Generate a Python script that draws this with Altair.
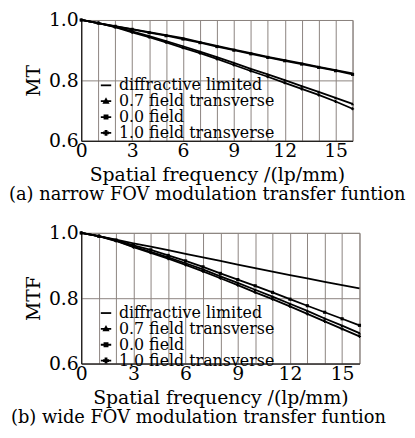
import altair as alt
import pandas as pd

freq = list(range(17))
series_names = ["diffractive limited", "0.7 field transverse", "0.0 field", "1.0 field transverse"]

# (a) narrow FOV
diff_a = [1.0, 0.99, 0.98, 0.97, 0.96, 0.95, 0.94, 0.927, 0.914, 0.902, 0.89, 0.878, 0.867, 0.856, 0.845, 0.834, 0.823]
f07_a = [1.0, 0.99, 0.977, 0.962, 0.947, 0.93, 0.913, 0.895, 0.877, 0.858, 0.838, 0.82, 0.801, 0.781, 0.762, 0.742, 0.722]
f00_a = [1.0, 0.99, 0.979, 0.969, 0.958, 0.948, 0.937, 0.925, 0.912, 0.9, 0.888, 0.876, 0.865, 0.854, 0.843, 0.832, 0.82]
f10_a = [1.0, 0.99, 0.976, 0.959, 0.943, 0.926, 0.908, 0.89, 0.871, 0.851, 0.831, 0.812, 0.792, 0.772, 0.752, 0.73, 0.706]

# (b) wide FOV
diff_b = [1.0, 0.99, 0.979, 0.968, 0.958, 0.947, 0.936, 0.925, 0.914, 0.903, 0.892, 0.881, 0.871, 0.861, 0.85, 0.84, 0.83]
f07_b = [1.0, 0.99, 0.976, 0.958, 0.942, 0.925, 0.907, 0.888, 0.867, 0.847, 0.826, 0.805, 0.783, 0.761, 0.738, 0.716, 0.693]
f00_b = [1.0, 0.99, 0.978, 0.962, 0.948, 0.931, 0.914, 0.896, 0.876, 0.857, 0.838, 0.818, 0.797, 0.777, 0.757, 0.737, 0.717]
f10_b = [1.0, 0.99, 0.975, 0.956, 0.939, 0.921, 0.902, 0.882, 0.861, 0.84, 0.818, 0.797, 0.775, 0.752, 0.729, 0.706, 0.683]

x_ticks = [0, 3, 6, 9, 12, 15]
y_ticks = [0.6, 0.8, 1.0]

FONT = "DejaVu Serif"
marker_paths = [
    "M-1,0H1",
    "M-1,0H1M0,-0.4L0.4,0.3L-0.4,0.3Z",
    "M-1,0H1M-0.3,-0.3H0.3V0.3H-0.3Z",
    "M-1,0H1M-0.4,-0.1H0.4V0.1H-0.4ZM-0.1,-0.4H0.1V0.4H-0.1Z",
]
data_marks = ["circle", "triangle-up", "square", "cross"]


def make_df(vals):
    rows = []
    for name, v in zip(series_names, vals):
        for f, m in zip(freq, v):
            rows.append({"freq": f, "mtf": m, "series": name})
    return pd.DataFrame(rows)


def panel(vals, ytitle, caption, w, h, legend_y, cap_dx):
    df = make_df(vals)
    x = alt.X("freq:Q", scale=alt.Scale(domain=[0, 16], nice=False),
              axis=alt.Axis(values=freq, title="Spatial frequency /(lp/mm)",
                            labelExpr="datum.value % 3 == 0 && datum.value < 16 ? datum.label : ''",
                            ticks=False, labelPadding=1, titlePadding=5, labelFlush=False,
                            labelOverlap=False))
    y = alt.Y("mtf:Q", scale=alt.Scale(domain=[0.6, 1.0], nice=False),
              axis=alt.Axis(values=y_ticks, format=".1f", title=ytitle, ticks=False,
                            labelPadding=3, titlePadding=5))
    base = alt.Chart(df).encode(x=x, y=y)
    lines = base.mark_line(color="black", strokeWidth=1.8).encode(detail="series:N")
    pts = base.transform_filter("datum.series != 'diffractive limited'").mark_point(
        filled=True, color="black", size=10, opacity=1
    ).encode(shape=alt.Shape("series:N", scale=alt.Scale(domain=series_names, range=data_marks), legend=None))
    leg = base.transform_filter("datum.freq == 0").mark_point(opacity=0).encode(
        shape=alt.Shape("series:N", sort=series_names,
                        scale=alt.Scale(domain=series_names, range=marker_paths),
                        legend=alt.Legend(title=None, orient="none", legendX=17, legendY=legend_y,
                                          labelFont=FONT, labelFontSize=16, labelColor="black",
                                          labelLimit=400,
                                          symbolSize=110, symbolStrokeWidth=1.8, symbolOpacity=1,
                                          symbolFillColor="black", symbolStrokeColor="black",
                                          rowPadding=0, labelOffset=5))
    )
    return alt.layer(lines, pts, leg).resolve_scale(shape="independent").properties(
        width=w, height=h,
        title=alt.TitleParams(caption, orient="bottom", anchor="start", frame="group", dx=cap_dx,
                              font=FONT, fontSize=18, fontWeight="normal", color="black", offset=2)
    )


top = panel([diff_a, f07_a, f00_a, f10_a], "MT", "(a) narrow FOV modulation transfer funtion", 274, 122, 58, -73)
bot = panel([diff_b, f07_b, f00_b, f10_b], "MTF", "(b) wide FOV modulation transfer funtion", 281, 132, 73, -71)

chart = alt.vconcat(top, bot, spacing=18).resolve_scale(shape="independent").resolve_legend(shape="independent").properties(
    padding=0
).configure_axis(
    labelFont=FONT, labelFontSize=19, labelColor="black",
    titleFont=FONT, titleFontSize=19, titleColor="black", titleFontWeight="normal",
    gridColor="#8c8480", gridWidth=1, gridOpacity=1,
    domainColor="black", domainWidth=1,
).configure_view(stroke="#8c8480", strokeWidth=1)

chart.save("out.html", embed_options={"renderer": "svg", "actions": False})
